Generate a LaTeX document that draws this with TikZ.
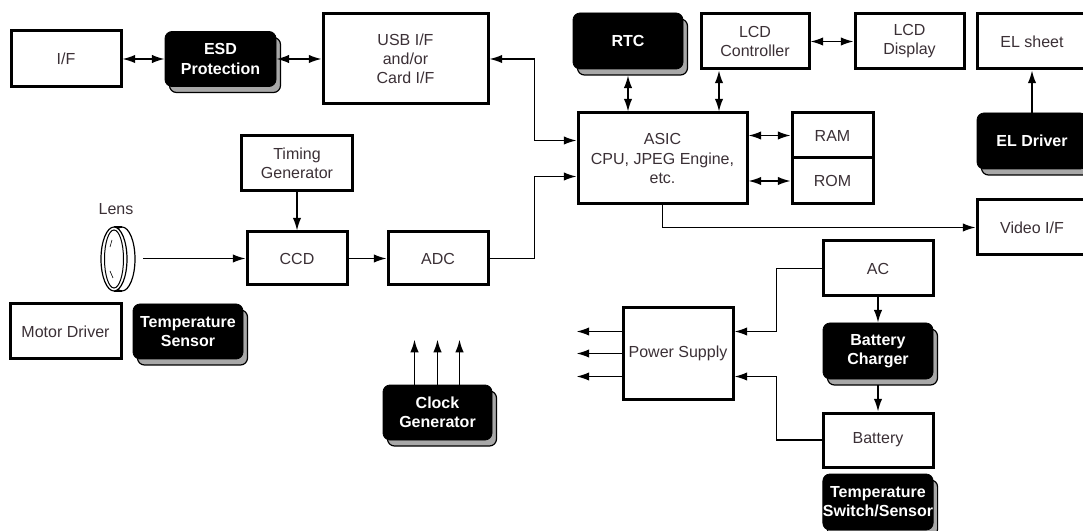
\documentclass[tikz,border=0pt]{standalone}
\usepackage{fontspec}
\setmainfont{Liberation Sans}
\usetikzlibrary{arrows.meta,shadows}

\newlength{\du}
\setlength{\du}{0.75pt}
\definecolor{labelcolor}{rgb}{0.23,0.19,0.21}
\definecolor{shadowgrey}{rgb}{0.66,0.66,0.66}

\tikzset{
  plainbox/.style={draw=black, line width=3\du, fill=white, align=center,
    text=labelcolor, inner sep=0pt, font=\fontsize{12}{14.3}\selectfont},
  darkbox/.style={draw=black, line width=0.8\du, fill=black, rounded corners=7\du,
    align=center, text=white, inner sep=0pt, font=\fontsize{12}{14.3}\selectfont\bfseries,
    drop shadow={shadow xshift=4.5\du, shadow yshift=-6\du, fill=shadowgrey,
      draw=black, line width=1.2\du, opacity=1}},
  boxsize/.style 2 args={minimum width=#1\du, minimum height=#2\du},
  sig/.style={line width=1.5\du, -{Latex[length=9.5pt,width=6.3pt]}},
  bisig/.style={line width=1.5\du, {Latex[length=9.5pt,width=6.3pt]}-{Latex[length=9.5pt,width=6.3pt]}},
}

\begin{document}
\begin{tikzpicture}
\useasboundingbox (0,0) rectangle (1083\du,-531\du);

% top row
\node[plainbox, boxsize={110}{56}] (iface) at (66\du,-59\du) {I/F};
\node[darkbox, boxsize={111}{55}] (esd) at (220.5\du,-59\du) {ESD\\Protection};
\node[plainbox, boxsize={165}{90}] (usb) at (405.5\du,-59\du) {USB I/F\\and/or\\Card I/F};
\node[darkbox, boxsize={110}{56}] (rtc) at (628\du,-41\du) {RTC};
\node[plainbox, boxsize={108}{55}] (lcdc) at (755\du,-41.5\du) {LCD\\Controller};
\node[plainbox, boxsize={109}{55}] (lcdd) at (909.5\du,-41.5\du) {LCD\\Display};
\node[plainbox, boxsize={110}{55}] (els) at (1032\du,-41.5\du) {EL sheet};

% processing core
\node[plainbox, boxsize={169}{91}] (asic) at (662.5\du,-158.5\du) {ASIC\\CPU, JPEG Engine,\\etc.};
\node[plainbox, boxsize={81}{45}] (ram) at (832.5\du,-135.5\du) {RAM};
\node[plainbox, boxsize={81}{46}] (rom) at (832.5\du,-181\du) {ROM};
\node[darkbox, boxsize={110}{56}] (eld) at (1032\du,-141\du) {EL Driver};
\node[plainbox, boxsize={110}{55}] (video) at (1032\du,-227.5\du) {Video I/F};

% imaging chain
\node[plainbox, boxsize={111}{55}] (timing) at (297\du,-163.5\du) {Timing\\Generator};
\node[plainbox, boxsize={100}{53}] (ccd) at (297\du,-258.5\du) {CCD};
\node[plainbox, boxsize={100}{53}] (adc) at (438\du,-258.5\du) {ADC};

% lens
\node[text=labelcolor, font=\fontsize{12}{14.3}\selectfont] (lenslabel) at (116\du,-209\du) {Lens};
\draw[line width=1.2\du] (122\du,-259\du) ellipse [x radius=13\du, y radius=32\du];
\draw[line width=1.2\du] (114\du,-227\du) -- (122\du,-227\du);
\draw[line width=1.2\du] (114\du,-291\du) -- (122\du,-291\du);
\draw[line width=1.2\du, fill=white] (114\du,-259\du) ellipse [x radius=13\du, y radius=32\du];
\draw[line width=1\du] (114\du,-259\du) ellipse [x radius=9.5\du, y radius=29\du];
\draw[line width=0.6\du] (110\du,-247\du) .. controls (110.5\du,-243\du) .. (112\du,-240\du);
\draw[line width=0.6\du] (110\du,-271\du) .. controls (111\du,-275\du) .. (113\du,-278\du);
\coordinate (lensout) at (143\du,-258.5\du);

% lower left
\node[plainbox, boxsize={111}{55}] (motor) at (65.5\du,-331.5\du) {Motor Driver};
\node[darkbox, boxsize={110}{55}] (tsens) at (188\du,-331.5\du) {Temperature\\Sensor};
\node[darkbox, boxsize={109}{55}] (clk) at (437.5\du,-412.5\du) {Clock\\Generator};

% power
\node[plainbox, boxsize={110}{91}] (ps) at (678\du,-353.5\du) {Power Supply};
\node[plainbox, boxsize={110}{55}] (ac) at (878\du,-268.5\du) {AC};
\node[darkbox, boxsize={110}{56}] (chg) at (878\du,-351\du) {Battery\\Charger};
\node[plainbox, boxsize={110}{54}] (bat) at (878\du,-440\du) {Battery};
\node[darkbox, boxsize={110}{56}] (tss) at (878\du,-502\du) {Temperature\\Switch/Sensor};

% connectors
\draw[bisig] (iface) -- (esd);
\draw[bisig] (esd) -- (usb);
\draw[bisig] (usb.east) -- ++(45\du,0) |- ([yshift=18\du]asic.west);
\draw[sig] (adc.east) -- ++(45\du,0) |- ([yshift=-18\du]asic.west);
\draw[bisig] ([yshift=-6\du]rtc.south) -- (rtc.south |- asic.north);
\draw[bisig] ([xshift=-36\du]lcdc.south) coordinate (lcdcport) -- (lcdcport |- asic.north);
\draw[bisig] (lcdc) -- (lcdd);
\draw[bisig] (asic.east |- ram) -- (ram.west);
\draw[bisig] (asic.east |- rom) -- (rom.west);
\draw[sig] (eld.north) -- (els.south);
\draw[sig] (asic.south) |- (video.west);
\draw[sig] (timing) -- (ccd);
\draw[sig] (lensout) -- (ccd);
\draw[sig] (ccd) -- (adc);
\foreach \dx in {-23,0,22}
  \draw[sig] ([xshift=\dx\du]clk.north) -- ++(0,45\du);
\draw[sig] (ac.west) -- ++(-45\du,0) |- ([yshift=22\du]ps.east);
\draw[sig] (bat.west) -- ++(-45\du,0) |- ([yshift=-23\du]ps.east);
\draw[sig] (ac) -- (chg);
\draw[sig] ([yshift=-6\du]chg.south) -- (bat.north);
\foreach \dy in {22,0,-23}
  \draw[sig] ([yshift=\dy\du]ps.west) -- ++(-45\du,0);
\end{tikzpicture}
\end{document}
